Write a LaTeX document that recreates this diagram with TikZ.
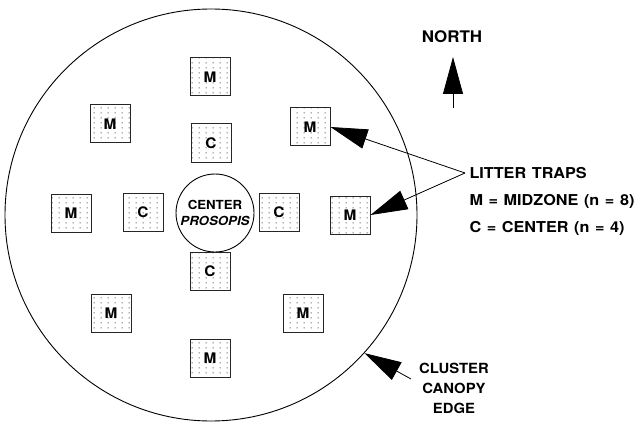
\documentclass[tikz,border=0pt]{standalone}
\usepackage{fontspec}
\setmainfont{TeX Gyre Heros}[FakeStretch=1.06]
\newfontfamily\legendfont{TeX Gyre Heros}[FakeStretch=1.08,WordSpace=1.25]
\usetikzlibrary{arrows.meta,patterns.meta}

\tikzdeclarepattern{
  name=trapdots,
  type=uncolored,
  bottom left={(0pt,0pt)},
  top right={(7pt,5pt)},
  tile size={(7pt,5pt)},
  code={\fill (3.5pt,2.5pt) circle (0.65pt);}
}

\begin{document}
\begin{tikzpicture}[x=1pt,y=-1pt,
  trap/.style={draw=black!85,line width=1pt,minimum width=40pt,minimum height=38pt,
    inner sep=0pt,pattern=trapdots,pattern color=black!85,
    font=\fontsize{14.5}{15}\selectfont\bfseries},
  pointer/.style={-{Triangle[length=37pt,width=20pt]},line width=0.8pt},
  legendtext/.style={font=\legendfont\fontsize{15}{27}\selectfont\bfseries}]
  \useasboundingbox (0,0) rectangle (637,425);
  % canopy and center tree
  \node[circle,draw,line width=0.9pt,minimum size=412pt] (canopy) at (211,215) {};
  \node[circle,draw,line width=0.9pt,minimum size=78pt,inner sep=0pt,align=center,
    font=\fontsize{12.5}{16}\selectfont\bfseries] (prosopis) at (215,213) {CENTER\\\itshape PROSOPIS};
  % midzone traps
  \foreach \n/\x/\y in {mN/210/77, mNE/310/127, mE/350/215, mSE/303/313,
                        mS/210/358, mSW/111/313, mW/71/213, mNW/110/124}
    \node[trap] (\n) at (\x,\y) {M};
  % center traps
  \foreach \n/\x/\y in {cN/211/143, cE/279/212, cS/210/271, cW/143/212}
    \node[trap] (\n) at (\x,\y) {C};
  % legend
  \node[legendtext,anchor=west,align=left] (legend) at (466,201)
    {LITTER TRAPS\\M = MIDZONE (n = 8)\\C = CENTER (n = 4)};
  \coordinate (fork) at (465,173);
  \draw[pointer] (fork) -- (mNE.east);
  \draw[pointer] (fork) -- (mE.east);
  % north
  \node[font=\fontsize{16}{16}\selectfont\bfseries] (north) at (452,37) {NORTH};
  \coordinate (ntail) at (453,108);
  \coordinate (ntip) at (453,57);
  \draw[pointer] (ntail) -- (ntip);
  % canopy edge
  \node[align=center,font=\fontsize{14}{20}\selectfont\bfseries] (edge) at (454,388)
    {CLUSTER\\CANOPY\\EDGE};
  \coordinate (etail) at (411,379);
  \draw[pointer] (etail) -- (canopy.-42);
\end{tikzpicture}
\end{document}
